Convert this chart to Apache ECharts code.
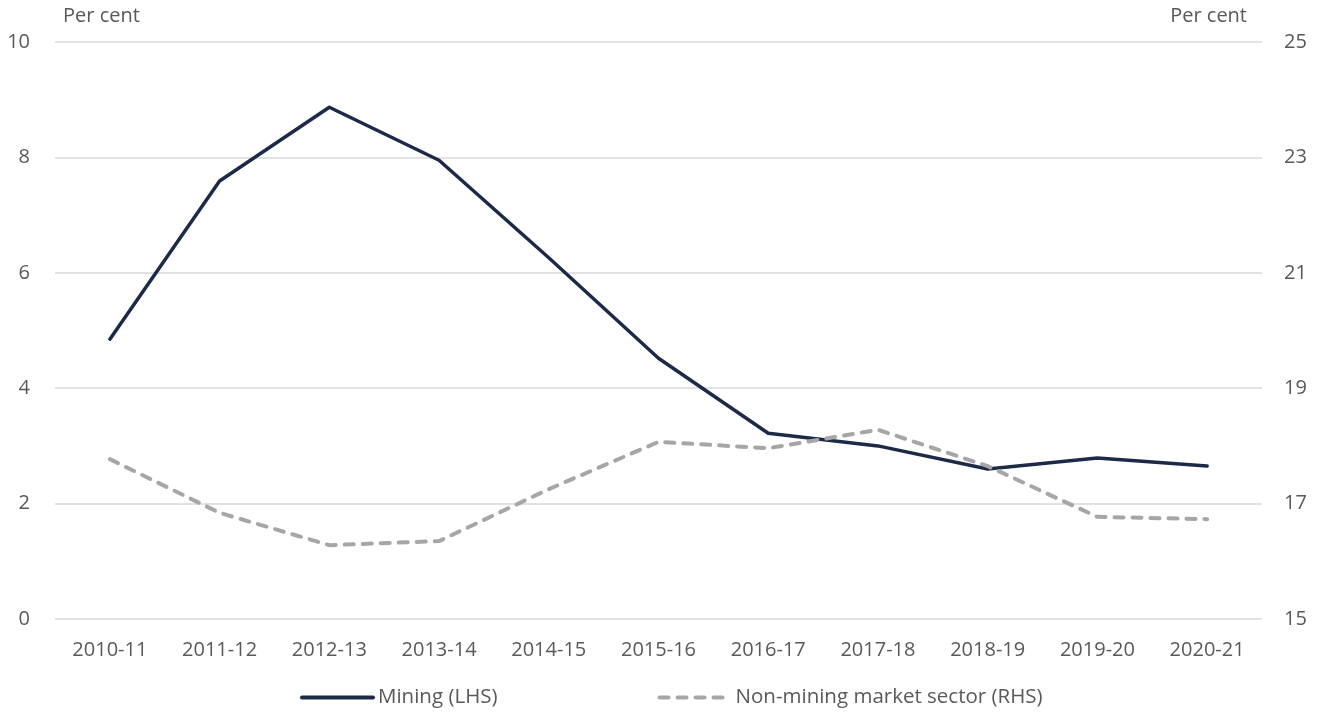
<!DOCTYPE html>
<html>
<head>
<meta charset="utf-8">
<script src="https://cdn.jsdelivr.net/npm/echarts@6/dist/echarts.min.js"></script>
<style>
  html, body { margin: 0; padding: 0; background: #fff; }
  #chart { width: 1323px; height: 715px; }
</style>
</head>
<body>
<div id="chart"></div>
<script>
  const years = ['2010-11', '2011-12', '2012-13', '2013-14', '2014-15', '2015-16',
                 '2016-17', '2017-18', '2018-19', '2019-20', '2020-21'];
  const mining = [4.85, 7.59, 8.87, 7.95, 6.26, 4.52, 3.22, 3.0, 2.6, 2.79, 2.65];
  const nonMining = [17.77, 16.84, 16.28, 16.35, 17.25, 18.07, 17.96, 18.28, 17.65, 16.77, 16.73];

  const txt = '#595959';
  const font = '"Open Sans", "Liberation Sans", sans-serif';
  const navy = '#1c2a48';
  const grey = '#a6a6a6';

  const chart = echarts.init(document.getElementById('chart'));
  const option = {
    animation: false,
    textStyle: { fontFamily: font },
    grid: { left: 55, right: 61, top: 42, bottom: 96, containLabel: false },
    legend: {
      bottom: 2,
      left: 295,
      itemWidth: 71,
      itemHeight: 14,
      itemGap: 160,
      itemTextGap: 7,
      itemStyle: { opacity: 0 },
      lineStyle: { width: 4, cap: 'round' },
      textStyle: { color: txt, fontSize: 20.5, fontFamily: font },
      data: ['Mining (LHS)', 'Non-mining market sector (RHS)']
    },
    xAxis: {
      type: 'category',
      data: years,
      boundaryGap: true,
      axisLine: { show: false },
      axisTick: { show: false },
      axisLabel: { color: txt, fontSize: 20, margin: 21 }
    },
    yAxis: [
      {
        type: 'value',
        min: 0, max: 10, interval: 2,
        name: 'Per cent',
        nameLocation: 'end',
        nameGap: 16,
        nameTextStyle: { color: txt, fontSize: 20, align: 'left', padding: [0, 0, 0, 8] },
        axisLine: { show: false },
        axisTick: { show: false },
        axisLabel: { color: txt, fontSize: 20, margin: 25 },
        splitLine: { lineStyle: { color: '#d9d9d9', width: 1.5 } }
      },
      {
        type: 'value',
        min: 15, max: 25, interval: 2,
        name: 'Per cent',
        nameLocation: 'end',
        nameGap: 16,
        nameTextStyle: { color: txt, fontSize: 20, align: 'right', padding: [0, 15, 0, 0] },
        axisLine: { show: false },
        axisTick: { show: false },
        axisLabel: { color: txt, fontSize: 20, margin: 22 },
        splitLine: { show: false }
      }
    ],
    series: [
      {
        name: 'Mining (LHS)',
        type: 'line',
        yAxisIndex: 0,
        data: mining,
        symbol: 'none',
        itemStyle: { color: navy },
        lineStyle: { color: navy, width: 3.5, cap: 'round', join: 'round' }
      },
      {
        name: 'Non-mining market sector (RHS)',
        type: 'line',
        yAxisIndex: 1,
        data: nonMining,
        symbol: 'none',
        itemStyle: { color: grey },
        lineStyle: { color: grey, width: 4, type: [9, 9], cap: 'round', join: 'round' }
      }
    ]
  };
  chart.setOption(option);
</script>
</body>
</html>
